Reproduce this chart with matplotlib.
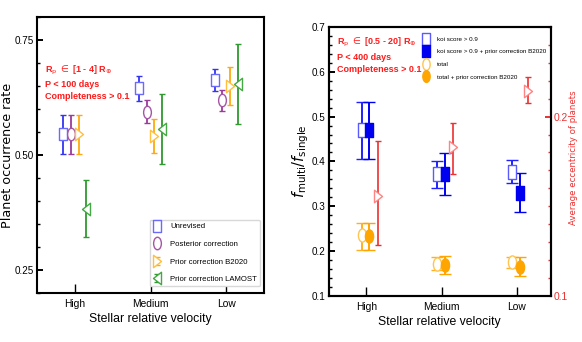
import numpy as np
import matplotlib
matplotlib.use("Agg")
import matplotlib.pyplot as plt
from matplotlib.path import Path
from matplotlib.lines import Line2D
from matplotlib.ticker import MultipleLocator

plt.rcParams['font.family'] = ['Liberation Sans Narrow', 'Liberation Sans', 'DejaVu Sans']

groups = ["High", "Medium", "Low"]

# left panel: planet occurrence rate
unrev = [0.546, 0.645, 0.663]
unrev_lo = [0.502, 0.618, 0.640]
unrev_hi = [0.587, 0.672, 0.688]
post = [0.546, 0.593, 0.620]
post_lo = [0.502, 0.569, 0.596]
post_hi = [0.587, 0.620, 0.641]
b2020 = [0.546, 0.541, 0.650]
b2020_lo = [0.502, 0.505, 0.609]
b2020_hi = [0.587, 0.578, 0.692]
lamost = [0.383, 0.557, 0.654]
lamost_lo = [0.322, 0.480, 0.567]
lamost_hi = [0.446, 0.632, 0.741]

# right panel: f_multi / f_single and eccentricity
koi = [0.470, 0.372, 0.376]
koi_lo = [0.405, 0.341, 0.352]
koi_hi = [0.533, 0.401, 0.403]
koi_b = [0.470, 0.372, 0.329]
koi_b_lo = [0.405, 0.325, 0.287]
koi_b_hi = [0.533, 0.419, 0.374]
tot = [0.236, 0.171, 0.175]
tot_lo = [0.202, 0.158, 0.162]
tot_hi = [0.262, 0.186, 0.186]
tot_b = [0.233, 0.169, 0.164]
tot_b_lo = [0.202, 0.149, 0.145]
tot_b_hi = [0.262, 0.189, 0.186]
ecc = [0.156, 0.183, 0.214]
ecc_lo = [0.1285, 0.168, 0.2073]
ecc_hi = [0.1866, 0.1966, 0.2218]

# narrow markers (the original looks squeezed sideways)
SQ = Path([(-0.3, -0.5), (0.3, -0.5), (0.3, 0.5), (-0.3, 0.5), (-0.3, -0.5)], closed=True)
_c = Path.unit_circle()
ELL = Path(_c.vertices * np.array([0.62, 1.0]), _c.codes)
TRI_R = Path([(-0.32, -0.5), (0.32, 0.0), (-0.32, 0.5), (-0.32, -0.5)], closed=True)
TRI_L = Path([(0.32, -0.5), (-0.32, 0.0), (0.32, 0.5), (0.32, -0.5)], closed=True)


def eb(ax, x, y, lo, hi, marker, color, mec=None, mfc='white', ms=9, cap=2.5,
       lw=1.3, label=None, z=2):
    y = np.asarray(y)
    yerr = [y - np.asarray(lo), np.asarray(hi) - y]
    return ax.errorbar(x, y, yerr=yerr, marker=marker, ls='none', color=color,
                       mec=mec or color, mfc=mfc, ms=ms, mew=1.0,
                       elinewidth=lw, capsize=cap, capthick=lw,
                       label=label, zorder=z)


def style_axes(ax):
    for s in ax.spines.values():
        s.set_linewidth(1.5)
    ax.tick_params(axis='y', which='major', direction='in', length=4.5, width=1.4, labelsize=7.1, pad=2.5)
    ax.tick_params(axis='y', which='minor', direction='in', length=2.3, width=1.0)
    ax.tick_params(axis='x', which='major', direction='in', length=6.5, width=1.0, labelsize=7.4, pad=4)
    ax.set_xticks(range(3))
    ax.set_xticklabels(groups)


fig = plt.figure(figsize=(5.82, 3.42), dpi=100)

# ---------------- left panel ----------------
ax = fig.add_axes([0.0636, 0.143, 0.390, 0.807])
x = np.arange(3)
h1 = eb(ax, x - 0.15, unrev, unrev_lo, unrev_hi, SQ, '#3535f0', mec='#6a6aff', label='Unrevised')
h2 = eb(ax, x - 0.05, post, post_lo, post_hi, ELL, '#9a3c9a', mec='#a455a4', label='Posterior correction')
h3 = eb(ax, x + 0.05, b2020, b2020_lo, b2020_hi, TRI_R, '#ffa90f', mec='#ffc040', label='Prior correction B2020')
h4 = eb(ax, x + 0.15, lamost, lamost_lo, lamost_hi, TRI_L, '#2f9a2f', mec='#45a845', label='Prior correction LAMOST')
ax.set_xlim(-0.5, 2.5)
ax.set_ylim(0.2, 0.8)
ax.yaxis.set_major_locator(MultipleLocator(0.25))
ax.yaxis.set_minor_locator(MultipleLocator(0.05))
style_axes(ax)
ax.set_xlabel("Stellar relative velocity", fontsize=8.8, labelpad=3)
ax.set_ylabel("Planet occurrence rate", fontsize=9.2, family='DejaVu Sans')
ax.yaxis.set_label_coords(-0.103, 0.5)
ax.text(0.035, 0.83, "R$_{\\rm p}$ $\\in$ [1 - 4] R$_{\\oplus}$\nP < 100 days\nCompleteness > 0.1",
        transform=ax.transAxes, ha='left', va='top', color='#ff1a1a',
        fontsize=6.5, fontweight='bold', linespacing=1.45)
leg = ax.legend(handles=[h1, h2, h3, h4], loc='lower right', bbox_to_anchor=(0.982, 0.025),
                fontsize=5.6, labelspacing=1.3, handlelength=1.1, handletextpad=1.1,
                borderaxespad=0, fancybox=True, edgecolor='#d8d8d8', framealpha=1)

# ---------------- right panel ----------------
axr = fig.add_axes([0.565, 0.1345, 0.381, 0.787])
eb(axr, x - 0.06, koi, koi_lo, koi_hi, SQ, '#2020ff', mec='#5a5aff', cap=4, lw=1.4, ms=9.5)
eb(axr, x + 0.04, koi_b, koi_b_lo, koi_b_hi, SQ, '#0000f0', mfc='#0000f0', cap=4, lw=1.4, ms=9.5)
eb(axr, x - 0.06, tot, tot_lo, tot_hi, ELL, '#ffb020', mec='#ffc550', cap=4, lw=1.4, ms=9.5)
eb(axr, x + 0.04, tot_b, tot_b_lo, tot_b_hi, ELL, '#ffa500', mfc='#ffa500', cap=4, lw=1.4, ms=9.5)
axr.set_xlim(-0.5, 2.45)
axr.set_ylim(0.1, 0.7)
axr.yaxis.set_major_locator(MultipleLocator(0.1))
axr.yaxis.set_minor_locator(MultipleLocator(0.02))
style_axes(axr)
axr.set_xlabel("Stellar relative velocity", fontsize=8.8, labelpad=3)
axr.set_ylabel("$f_{\\rm multi}/f_{\\rm single}$", fontsize=10.5, family='DejaVu Sans')
axr.yaxis.set_label_coords(-0.08, 0.5)
axr.text(0.035, 0.965, "R$_{\\rm p}$ $\\in$ [0.5 - 20] R$_{\\oplus}$\nP < 400 days\nCompleteness > 0.1",
         transform=axr.transAxes, ha='left', va='top', color='#ff1a1a',
         fontsize=6.5, fontweight='bold', linespacing=1.45)

proxies = [
    Line2D([], [], ls='none', marker=SQ, ms=8.5, mfc='white', mec='#5a5aff', mew=1.0),
    Line2D([], [], ls='none', marker=SQ, ms=8.5, mfc='#0000f0', mec='#0000f0', mew=1.0),
    Line2D([], [], ls='none', marker=ELL, ms=8.5, mfc='white', mec='#ffc550', mew=1.0),
    Line2D([], [], ls='none', marker=ELL, ms=8.5, mfc='#ffa500', mec='#ffa500', mew=1.0),
]
axr.legend(proxies, ["koi score > 0.9", "koi score > 0.9 + prior correction B2020",
                     "total", "total + prior correction B2020"],
           loc='upper left', bbox_to_anchor=(0.40, 0.985), frameon=False,
           fontsize=4.5, labelspacing=1.15, handlelength=1.0, handletextpad=1.2)

# eccentricity on twin axis
ax2 = axr.twinx()
eb(ax2, x + 0.15, ecc, ecc_lo, ecc_hi, TRI_R, '#ee3030', mec='#ff8585', cap=2, lw=1.2, ms=9)
ax2.set_ylim(0.1, 0.25)
ax2.yaxis.set_major_locator(MultipleLocator(0.1))
ax2.yaxis.set_minor_locator(MultipleLocator(0.01))
ax2.tick_params(axis='y', which='major', direction='in', length=4.5, width=1.4,
                colors='#ee3030', labelsize=7.4, pad=2)
ax2.tick_params(axis='y', which='minor', direction='in', length=2.5, width=1.0, colors='#ee3030')
for s in ax2.spines.values():
    s.set_linewidth(1.5)
ax2.spines['right'].set_color('black')
ax2.set_ylabel("Average eccentricity of planets", fontsize=6.2, color='#ee3030', family='DejaVu Sans')
ax2.yaxis.set_label_coords(1.085, 0.515)

fig.savefig("out.png", dpi=100)
